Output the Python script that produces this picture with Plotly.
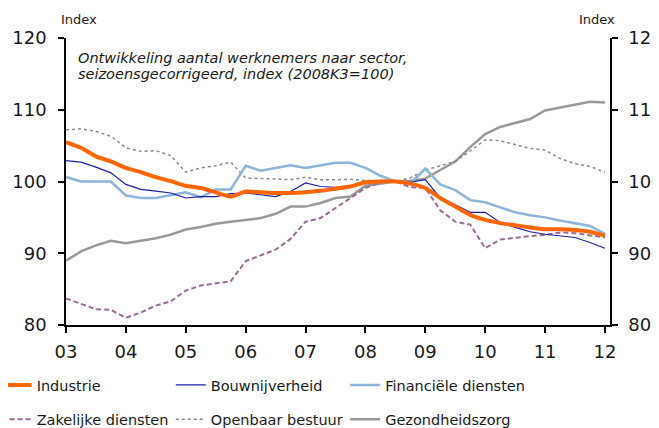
import plotly.graph_objects as go

# Quarters 2003K1 .. 2012K1
quarters = [f"{y}K{q}" for y in range(2003, 2013) for q in range(1, 5)][:37]

industrie = [105.5, 104.7, 103.5, 102.8, 101.9, 101.3, 100.6, 100.05, 99.4, 99.1, 98.5, 97.9,
             98.6, 98.5, 98.4, 98.4, 98.5, 98.7, 99.0, 99.3, 99.9, 100.0, 100.0, 99.7, 99.1,
             97.7, 96.5, 95.35, 94.65, 94.2, 93.9, 93.6, 93.35, 93.35, 93.25, 93.0, 92.45]
bouwnijverheid = [102.9, 102.7, 102.0, 101.2, 99.6, 98.9, 98.65, 98.4, 97.7, 97.9, 97.9, 98.3,
                  98.4, 98.1, 97.9, 98.6, 99.8, 99.3, 99.2, 99.4, 100.0, 100.1, 100.0, 99.9, 100.25,
                  97.7, 96.75, 95.7, 95.7, 94.3, 93.6, 93.0, 92.65, 92.45, 92.2, 91.5, 90.7]
financiele = [100.65, 100.0, 100.0, 100.0, 98.05, 97.7, 97.7, 98.1, 98.5, 97.8, 98.9, 98.9,
              102.2, 101.5, 101.9, 102.25, 101.9, 102.25, 102.6, 102.6, 101.9, 100.8, 100.0, 99.7, 101.8,
              99.6, 98.8, 97.4, 97.1, 96.4, 95.7, 95.3, 95.0, 94.55, 94.2, 93.8, 92.7]
zakelijke = [83.7, 83.0, 82.2, 82.1, 81.0, 81.75, 82.7, 83.3, 84.8, 85.5, 85.85, 86.1,
             88.9, 89.7, 90.5, 92.0, 94.4, 94.9, 96.3, 97.7, 99.1, 99.9, 100.0, 99.2, 99.1,
             96.0, 94.4, 94.0, 90.7, 91.9, 92.2, 92.4, 92.55, 92.9, 92.8, 92.55, 92.2]
openbaar = [107.2, 107.35, 107.0, 106.3, 104.7, 104.2, 104.3, 103.6, 101.3, 101.9, 102.2, 102.7,
            100.5, 100.4, 100.4, 100.25, 100.6, 100.25, 100.25, 100.3, 100.15, 100.15, 100.0, 100.5, 101.6,
            102.25, 102.8, 104.25, 105.8, 105.7, 105.1, 104.6, 104.4, 103.2, 102.5, 102.1, 101.3]
gezondheid = [88.95, 90.25, 91.1, 91.75, 91.4, 91.75, 92.1, 92.6, 93.3, 93.65, 94.1, 94.4,
              94.7, 94.9, 95.5, 96.5, 96.5, 97.0, 97.7, 97.9, 99.4, 99.7, 100.0, 100.1, 100.4,
              101.6, 102.8, 104.8, 106.6, 107.6, 108.2, 108.7, 109.9, 110.3, 110.7, 111.1, 111.0]

tick_years = list(range(2003, 2013))
tick_labels = ["03", "04", "05", "06", "07", "08", "09", "10", "11", "12"]
y_ticks = [80, 90, 100, 110, 120]

subtitle_lines = ["Ontwikkeling aantal werknemers naar sector,",
                  "seizoensgecorrigeerd, index (2008K3=100)"]

x = [int(q[:4]) + (int(q[-1]) - 1) / 4 for q in quarters]

FONT = "DejaVu Sans"

fig = go.Figure()

# (name, values, line style, legend id, legend column x, legend row y)
series = [
    ("Gezondheidszorg", gezondheid, dict(color="#999999", width=2.5), "legend6", 0.5132, -0.3286),
    ("Openbaar bestuur", openbaar, dict(color="#8a8a8a", width=1.5, dash="dot"), "legend5", 0.1926, -0.3286),
    ("Zakelijke diensten", zakelijke, dict(color="#9B6B96", width=2, dash="5px,3px"), "legend4", -0.1275, -0.3286),
    ("Financiële diensten", financiele, dict(color="#8DB4DB", width=2.5), "legend3", 0.5132, -0.209),
    ("Bouwnijverheid", bouwnijverheid, dict(color="#1E1EAA", width=1.2), "legend2", 0.1926, -0.209),
    ("Industrie", industrie, dict(color="#FF6600", width=4, shape="spline", smoothing=0.5), "legend", -0.1275, -0.209),
]
legends = {}
for name, vals, line, leg, lx, ly in series:
    fig.add_trace(go.Scatter(x=x, y=vals, mode="lines", name=name, line=line, legend=leg))
    legends[leg] = dict(orientation="h", x=lx, y=ly, xanchor="left", yanchor="middle",
                        font=dict(family=FONT, size=14.5, color="#1a1a1a"), bgcolor="rgba(0,0,0,0)")

fig.add_trace(go.Scatter(x=[x[0]], y=[None], yaxis="y2", showlegend=False, hoverinfo="skip"))

axis_common = dict(showgrid=False, zeroline=False, showline=True, linecolor="black", linewidth=1.5,
                   ticks="outside", ticklen=6, tickcolor="black", tickwidth=1.5, automargin=False,
                   tickfont=dict(family=FONT, size=18, color="#1a1a1a"))

annotations = [
    dict(text="Index", xref="paper", yref="paper", x=-0.012, y=1.064, xanchor="left",
         yanchor="middle", showarrow=False, font=dict(family=FONT, size=13, color="#1a1a1a")),
    dict(text="Index", xref="paper", yref="paper", x=1.012, y=1.064, xanchor="right",
         yanchor="middle", showarrow=False, font=dict(family=FONT, size=13, color="#1a1a1a")),
]
for txt, yy in zip(subtitle_lines, [0.932, 0.8746]):
    annotations.append(dict(text=f"<i>{txt}</i>", xref="paper", yref="paper", x=0.018, y=yy,
                            xanchor="left", yanchor="middle", showarrow=False,
                            font=dict(family=FONT, size=14.5, color="#1a1a1a")))

# the page body adds an 8px offset, so the figure is sized to fit the window
fig.update_layout(
    width=651, height=420,
    margin=dict(l=58, r=49, t=30, b=103, autoexpand=False),
    paper_bgcolor="white", plot_bgcolor="white",
    font=dict(family=FONT, color="#1a1a1a"),
    xaxis=dict(range=[2003, 2012.084], tickvals=tick_years, ticktext=tick_labels,
               ticklabelstandoff=4, **axis_common),
    yaxis=dict(range=[80, 120], tickvals=y_ticks, ticklabelstandoff=8, **axis_common),
    yaxis2=dict(range=[80, 120], tickvals=y_ticks, overlaying="y", side="right",
                ticklabelstandoff=7, **axis_common),
    annotations=annotations,
    **legends,
)

fig.write_html("out.html")
